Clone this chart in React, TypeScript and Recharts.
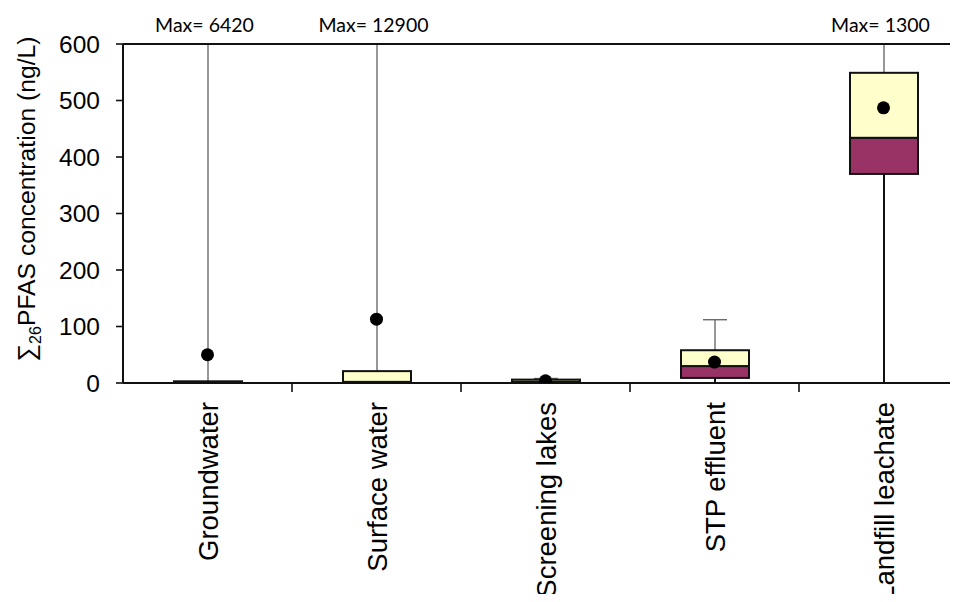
import React from 'react';
import {
  ComposedChart,
  Bar,
  Scatter,
  XAxis,
  YAxis
} from 'recharts';

const categories = ['Groundwater', 'Surface water', 'Screening lakes', 'STP effluent', 'Landfill leachate'];
const minValues = [0, 0, 0, 1, 1];
const q1Values = [0, 0.5, 0.5, 9, 370];
const medianValues = [0.5, 2, 2, 30, 434];
const q3Values = [3, 21, 6, 58, 549];
const maxValues = [6420, 12900, 8, 112, 1300];
const meanValues = [50, 113, 4, 37, 487];
const yTicks = [0, 100, 200, 300, 400, 500, 600];

const Y_MAX = 600;
const FONT = '"Liberation Sans", Arial, sans-serif';

const data = categories.map((name, i) => ({
  name,
  min: minValues[i],
  q1: q1Values[i],
  median: medianValues[i],
  q3: q3Values[i],
  max: maxValues[i],
  mean: meanValues[i]
}));

const UpperWhisker = (props: any) => {
  const { x, y, width, height, payload } = props;
  const cx = x + width / 2;
  const capped = payload.max <= Y_MAX;
  return (
    <g>
      <line x1={cx} x2={cx} y1={y} y2={y + height} stroke="#6b6b6b" strokeWidth={1.4} />
      {capped && <line x1={cx - 12} x2={cx + 12} y1={y} y2={y} stroke="#6b6b6b" strokeWidth={1.4} />}
    </g>
  );
};

const LowerWhisker = (props: any) => {
  const { x, y, width, height } = props;
  const cx = x + width / 2;
  return <line x1={cx} x2={cx} y1={y} y2={y + height} stroke="#111" strokeWidth={2} />;
};

const BoxPart = (fill: string) => (props: any) => {
  const { x, y, width, height } = props;
  return <rect x={x} y={y} width={width} height={Math.max(height, 0)} fill={fill} stroke="#111" strokeWidth={2} />;
};

const MeanDot = (props: any) => {
  const { cx, cy } = props;
  return <circle cx={cx} cy={cy} r={6.5} fill="#000" />;
};

const CategoryTick = (props: any) => {
  const { x, y, payload, index } = props;
  const half = payload.offset ?? 84;
  return (
    <g>
      {index < categories.length - 1 && (
        <line x1={x + half} x2={x + half} y1={y} y2={y + 9} stroke="#111" strokeWidth={1.6} />
      )}
      <text
        transform={`translate(${x + 10},${y + 19}) rotate(-90)`}
        textAnchor="end"
        fontSize={27.5}
        fontFamily={FONT}
        fill="#000"
      >
        {payload.value}
      </text>
    </g>
  );
};

const MaxTick = (props: any) => {
  const { x, y, index } = props;
  const max = maxValues[index];
  if (max <= Y_MAX) return null;
  return (
    <text x={x - 3} y={y - 12} textAnchor="middle" fontSize={19.5} fontFamily="Lato, 'Open Sans', sans-serif" fill="#000">
      {`Max= ${max}`}
    </text>
  );
};

const YTitle = () => (
  <text transform="translate(35,199) rotate(-90)" textAnchor="middle" fontSize={24.7} fontFamily={FONT} fill="#000">
    {'\u2211'}
    <tspan fontSize={16} dy={6}>26</tspan>
    <tspan dy={-6}>PFAS concentration (ng/L)</tspan>
  </text>
);

export default function App() {
  return (
    <div style={{ margin: -8, width: 958, height: 602, overflow: 'hidden', background: '#fff' }}>
      <ComposedChart
        width={968}
        height={602}
        data={data}
        margin={{ top: 0, right: 0, bottom: 0, left: 0 }}
        barGap={-68}
        barSize={68}
      >
        <XAxis
          xAxisId="top"
          dataKey="name"
          orientation="top"
          height={44}
          axisLine={{ stroke: '#111', strokeWidth: 2 }}
          tickLine={false}
          tickSize={0}
          tickMargin={0}
          tick={<MaxTick />}
          interval={0}
        />
        <XAxis
          dataKey="name"
          height={219}
          axisLine={{ stroke: '#111', strokeWidth: 2 }}
          tickLine={false}
          tickSize={0}
          tickMargin={0}
          tick={<CategoryTick />}
          interval={0}
        />
        <YAxis
          width={123}
          domain={[0, Y_MAX]}
          ticks={yTicks}
          allowDataOverflow
          axisLine={{ stroke: '#111', strokeWidth: 2 }}
          tickLine={{ stroke: '#111', strokeWidth: 1.6 }}
          tickSize={7}
          tickMargin={16}
          tick={{ fontSize: 24.5, fontFamily: FONT, fill: '#000' }}
          label={<YTitle />}
        />
        <Bar dataKey={(d: any) => [d.q3, d.max]} shape={<UpperWhisker />} isAnimationActive={false} />
        <Bar dataKey={(d: any) => [d.min, d.q1]} shape={<LowerWhisker />} isAnimationActive={false} />
        <Bar dataKey={(d: any) => [d.q1, d.median]} shape={BoxPart('#993366')} isAnimationActive={false} />
        <Bar dataKey={(d: any) => [d.median, d.q3]} shape={BoxPart('#ffffcc')} isAnimationActive={false} />
        <Scatter dataKey="mean" shape={<MeanDot />} isAnimationActive={false} />
      </ComposedChart>
    </div>
  );
}
